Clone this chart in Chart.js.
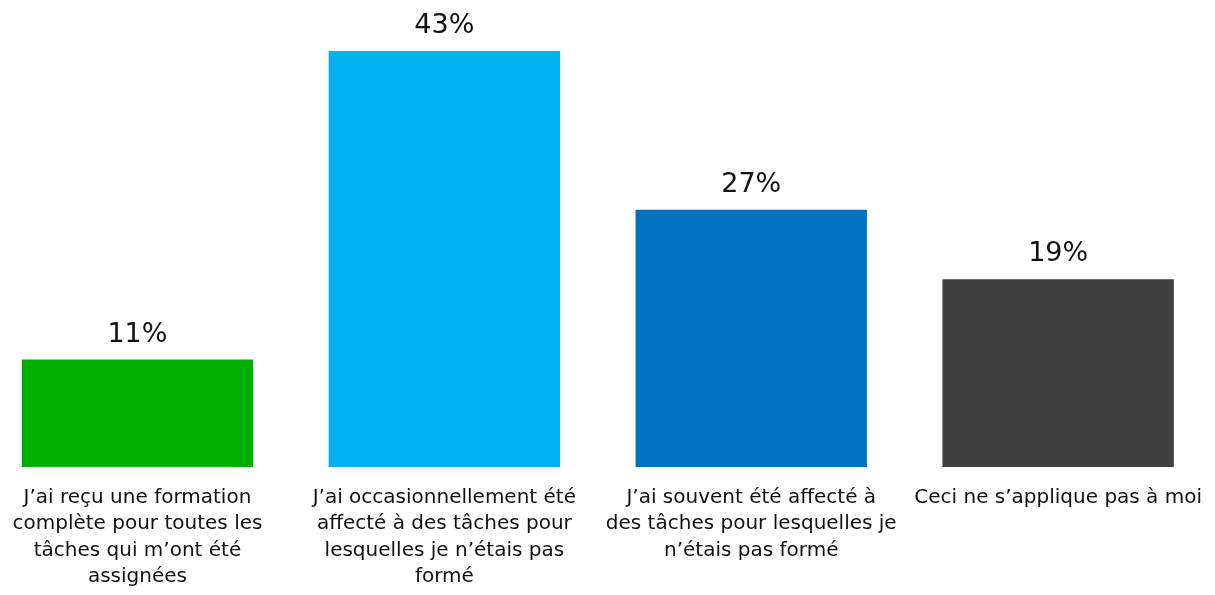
<!DOCTYPE html>
<html>
<head>
<meta charset="utf-8">
<script src="https://cdn.jsdelivr.net/npm/chart.js@4"></script>
<style>
  html, body { margin: 0; padding: 0; background: #fff; overflow: hidden; }
  #frame { width: 1215px; height: 595px; position: relative; overflow: hidden; }
  /* slide layout: the plot starts a little left of the page edge */
  #wrap { position: absolute; left: -16px; top: 0; width: 1235px; height: 595px; }
</style>
</head>
<body>
<div id="frame"><div id="wrap"><canvas id="chart"></canvas></div></div>
<script>
"use strict";

// Category labels, already broken into lines as in the original slide.
const CATEGORIES = [
  ["J’ai reçu une formation", "complète pour toutes les", "tâches qui m’ont été", "assignées"],
  ["J’ai occasionnellement été", "affecté à des tâches pour", "lesquelles je n’étais pas", "formé"],
  ["J’ai souvent été affecté à", "des tâches pour lesquelles je", "n’étais pas formé"],
  ["Ceci ne s’applique pas à moi"],
];
// Bar heights; labels show them rounded.
const VALUES = [11.1, 43, 26.6, 19.4];
const BAR_COLORS = ["#00b000", "#00b0f0", "#0070c0", "#404040"];

const FONT = "'DejaVu Sans', 'Noto Sans', sans-serif";

// Draws the "NN%" label above each bar.
const valueLabels = {
  id: "valueLabels",
  afterDatasetsDraw(chart) {
    const ctx = chart.ctx;
    const meta = chart.getDatasetMeta(0);
    ctx.save();
    ctx.font = "27px " + FONT;
    ctx.fillStyle = "#111";
    ctx.textAlign = "center";
    ctx.textBaseline = "alphabetic";
    meta.data.forEach((bar, i) => {
      ctx.fillText(Math.round(VALUES[i]) + "%", bar.x, bar.y - 18);
    });
    ctx.restore();
  },
};

new Chart(document.getElementById("chart"), {
  type: "bar",
  data: {
    labels: CATEGORIES,
    datasets: [{
      data: VALUES,
      backgroundColor: BAR_COLORS,
      borderWidth: 0,
      categoryPercentage: 1,
      barPercentage: 0.754,
    }],
  },
  options: {
    responsive: true,
    maintainAspectRatio: false,
    animation: false,
    layout: { padding: { top: 51, left: 0, right: 0, bottom: 0 } },
    plugins: { legend: { display: false }, tooltip: { enabled: false } },
    scales: {
      x: {
        grid: { display: false, drawTicks: false },
        border: { display: false },
        ticks: {
          color: "#111",
          font: { family: FONT, size: 20, lineHeight: 1.33 },
          padding: 17,
          maxRotation: 0,
          minRotation: 0,
          autoSkip: false,
        },
        afterFit: (scale) => { scale.height = 128; },
      },
      y: {
        display: false,
        min: 0,
        max: 43,
      },
    },
  },
  plugins: [valueLabels],
});
</script>
</body>
</html>
